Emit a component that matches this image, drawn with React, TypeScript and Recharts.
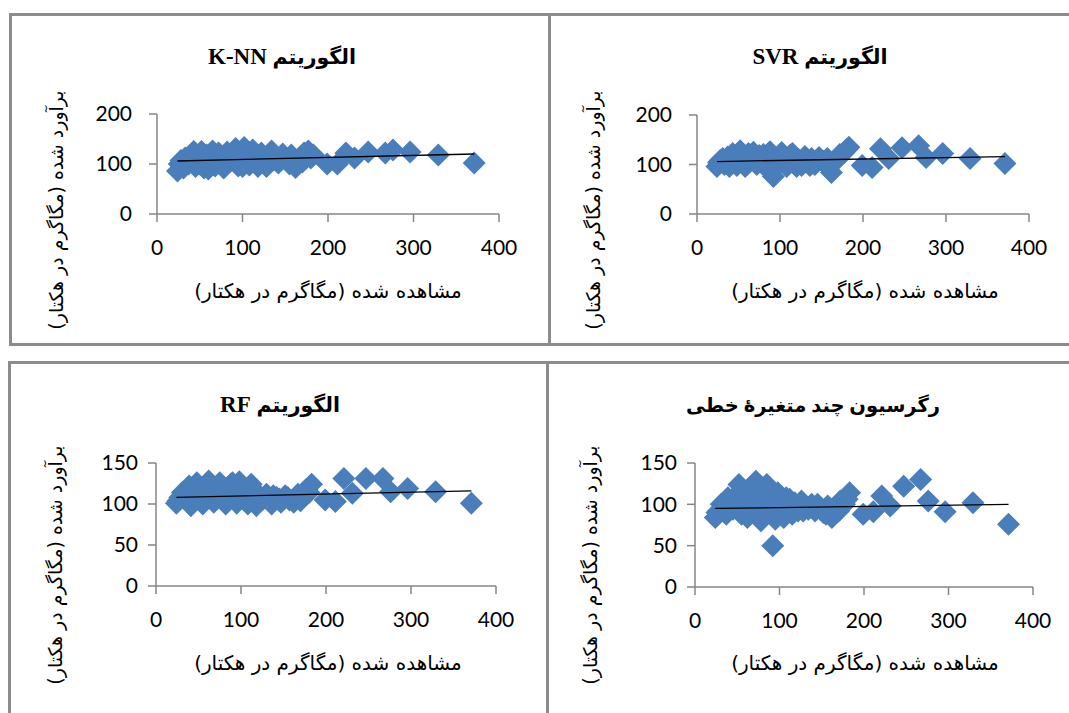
import React from 'react';
import { ScatterChart, Scatter, XAxis, YAxis } from 'recharts';

// Observed biomass (Mg/ha) – shared by all four models
const observed = [
  24, 28, 33, 37, 41, 45, 48, 52, 55, 58, 62, 65, 68, 72, 75, 78, 82, 85, 88, 92,
  95, 98, 102, 105, 108, 112, 115, 118, 122, 126, 130, 134, 138, 142, 147, 152, 157, 162, 167, 172,
  177, 183, 199, 211, 221, 231, 247, 267, 276, 296, 329, 371,
  26, 31, 39, 43, 50, 57, 60, 70, 80, 90, 100, 110, 120, 128, 136, 145, 155, 170, 180,
];

const knnPred = [
  86, 107, 112, 100, 120, 95, 110, 125, 92, 118, 105, 126, 96, 122, 110, 92, 124, 105, 118, 131,
  96, 112, 133, 120, 98, 128, 108, 95, 122, 112, 100, 126, 115, 102, 120, 110, 118, 93, 112, 122,
  126, 118, 100, 100, 122, 112, 124, 122, 128, 124, 118, 102,
  100, 92, 108, 125, 100, 112, 90, 115, 102, 108, 95, 118, 104, 95, 108, 112, 100, 104, 112,
];

const svrPred = [
  96, 108, 100, 115, 104, 118, 98, 128, 108, 96, 122, 110, 125, 100, 118, 108, 96, 120, 126, 76,
  112, 100, 124, 108, 96, 118, 122, 100, 110, 98, 116, 104, 112, 100, 114, 106, 112, 84, 108, 120,
  124, 135, 98, 94, 132, 112, 134, 138, 114, 122, 112, 102,
  104, 112, 96, 122, 116, 104, 100, 112, 120, 104, 114, 106, 96, 106, 98, 108, 100, 112, 130,
];

const rfPred = [
  101, 108, 112, 104, 98, 116, 126, 108, 100, 122, 128, 112, 102, 120, 126, 106, 100, 118, 124, 112,
  101, 127, 118, 108, 100, 124, 114, 98, 110, 106, 112, 104, 110, 108, 102, 110, 105, 102, 112, 110,
  118, 124, 105, 103, 131, 113, 131, 131, 115, 119, 115, 101,
  104, 114, 122, 110, 118, 104, 116, 110, 120, 126, 110, 118, 104, 108, 100, 106, 108, 104, 114,
];

const mlrPred = [
  84, 92, 96, 88, 102, 94, 110, 124, 88, 100, 84, 112, 96, 128, 118, 80, 106, 124, 96, 50,
  82, 114, 104, 84, 108, 106, 88, 102, 92, 104, 98, 94, 100, 92, 96, 90, 98, 84, 96, 104,
  100, 114, 88, 91, 110, 98, 122, 130, 104, 91, 102, 76,
  90, 100, 108, 96, 104, 118, 92, 104, 112, 92, 100, 96, 98, 92, 96, 100, 88, 92, 106,
];

// Trend lines (end points)
const knnTrendX = [24, 371];
const knnTrendY = [106, 120];
const svrTrendX = [24, 371];
const svrTrendY = [106, 116];
const rfTrendX = [24, 371];
const rfTrendY = [108, 116];
const mlrTrendX = [24, 371];
const mlrTrendY = [95, 100];

const xTicks = [0, 100, 200, 300, 400];
const yTicksTop = [0, 100, 200];
const yTicksBottom = [0, 50, 100, 150];

const algoWord = 'الگوریتم';
const algoNames = ['K-NN', 'SVR', 'RF'];
const mlrTitle = 'رگرسیون چند متغیرهٔ خطی';
const xTitle = 'مشاهده شده (مگاگرم در هکتار)';
const yTitle = 'برآورد شده (مگاگرم در هکتار)';

const toPoints = (xs: number[], ys: number[]) => xs.map((x, i) => ({ x, y: ys[i] }));

const BLUE = '#4A7EBB';
const AXIS = '#868686';
const BORDER = '#8c8c8c';

const Diamond = (props: any) => {
  const { cx, cy } = props;
  if (cx == null || cy == null) return <g />;
  const r = 11.5;
  return (
    <polygon
      points={`${cx},${cy - r} ${cx + r},${cy} ${cx},${cy + r} ${cx - r},${cy}`}
      fill={BLUE}
    />
  );
};

const NoShape = () => <g />;

type PanelProps = {
  left: number;
  top: number;
  width: number;
  height: number;
  plot: { x0: number; x1: number; y0: number; y1: number };
  pred: number[];
  trendX: number[];
  trendY: number[];
  yMax: number;
  yTicks: number[];
  yTickMargin: number;
};

const Panel = (p: PanelProps) => {
  const yAxisW = 60;
  const xAxisH = 40;
  const margin = {
    left: p.plot.x0 - p.left - yAxisW,
    top: p.plot.y0 - p.top,
    right: p.left + p.width - p.plot.x1,
    bottom: p.top + p.height - p.plot.y1 - xAxisH,
  };
  const tickStyle = { fill: '#000', fontSize: 21, fontFamily: 'Lato, "Open Sans", sans-serif' };
  return (
    <div style={{ position: 'absolute', left: p.left, top: p.top, width: p.width, height: p.height }}>
      <ScatterChart width={p.width} height={p.height} margin={margin}>
        <XAxis
          type="number"
          dataKey="x"
          domain={[0, 400]}
          ticks={xTicks}
          interval={0}
          height={xAxisH}
          tickSize={8}
          tickMargin={18}
          axisLine={{ stroke: AXIS, strokeWidth: 1.5 }}
          tickLine={{ stroke: AXIS, strokeWidth: 1.5 }}
          tick={tickStyle}
          allowDataOverflow
        />
        <YAxis
          type="number"
          dataKey="y"
          domain={[0, p.yMax]}
          ticks={p.yTicks}
          interval={0}
          width={yAxisW}
          tickSize={8}
          tickMargin={p.yTickMargin}
          axisLine={{ stroke: AXIS, strokeWidth: 1.5 }}
          tickLine={{ stroke: AXIS, strokeWidth: 1.5 }}
          tick={tickStyle}
          allowDataOverflow
        />
        <Scatter data={toPoints(observed, p.pred)} shape={Diamond} isAnimationActive={false} />
        <Scatter
          data={toPoints(p.trendX, p.trendY)}
          shape={NoShape}
          line={{ stroke: '#000', strokeWidth: 1.3 }}
          isAnimationActive={false}
        />
      </ScatterChart>
    </div>
  );
};

const textBase: React.CSSProperties = {
  position: 'absolute',
  whiteSpace: 'nowrap',
  color: '#000',
  lineHeight: 1,
};

const titleStyle = (x: number, y: number, size: number): React.CSSProperties => ({
  ...textBase,
  left: x,
  top: y,
  transform: 'translate(-50%, -50%)',
  fontFamily: '"Liberation Serif", "DejaVu Sans", serif',
  fontWeight: 'bold',
  fontSize: size,
});

const AlgoTitle = ({ x, y, name }: { x: number; y: number; name: string }) => (
  <div dir="rtl" style={titleStyle(x, y, 23)}>
    <span style={{ fontSize: 20.5 }}>{algoWord}</span> <span>{name}</span>
  </div>
);

const MlrTitle = ({ x, y }: { x: number; y: number }) => (
  <div dir="rtl" style={titleStyle(x, y, 19.5)}>
    {mlrTitle}
  </div>
);

const XTitle = ({ x, y }: { x: number; y: number }) => (
  <div
    dir="rtl"
    style={{
      ...textBase,
      left: x,
      top: y,
      transform: 'translate(-50%, -50%)',
      fontFamily: '"DejaVu Sans", sans-serif',
      fontSize: 20,
    }}
  >
    {xTitle}
  </div>
);

const YTitle = ({ x, y }: { x: number; y: number }) => (
  <div
    dir="rtl"
    style={{
      ...textBase,
      left: x,
      top: y,
      transform: 'translate(-50%, -50%) rotate(-90deg)',
      fontFamily: '"DejaVu Sans", sans-serif',
      fontSize: 19,
    }}
  >
    {yTitle}
  </div>
);

const Line = ({ l, t, w, h }: { l: number; t: number; w: number; h: number }) => (
  <div style={{ position: 'absolute', left: l, top: t, width: w, height: h, background: BORDER }} />
);

export default function App() {
  return (
    <div
      style={{
        position: 'absolute',
        left: 0,
        top: 0,
        width: 1069,
        height: 713,
        background: '#fff',
        overflow: 'hidden',
      }}
    >
      <Panel
        left={0} top={0} width={549} height={344}
        plot={{ x0: 157, x1: 499, y0: 114, y1: 214 }}
        pred={knnPred} trendX={knnTrendX} trendY={knnTrendY}
        yMax={200} yTicks={yTicksTop} yTickMargin={17}
      />
      <Panel
        left={549} top={0} width={520} height={344}
        plot={{ x0: 697, x1: 1029, y0: 115, y1: 214 }}
        pred={svrPred} trendX={svrTrendX} trendY={svrTrendY}
        yMax={200} yTicks={yTicksTop} yTickMargin={17}
      />
      <Panel
        left={0} top={362} width={547} height={351}
        plot={{ x0: 156, x1: 496, y0: 463, y1: 586 }}
        pred={rfPred} trendX={rfTrendX} trendY={rfTrendY}
        yMax={150} yTicks={yTicksBottom} yTickMargin={10}
      />
      <Panel
        left={547} top={362} width={522} height={351}
        plot={{ x0: 695, x1: 1033, y0: 463, y1: 587 }}
        pred={mlrPred} trendX={mlrTrendX} trendY={mlrTrendY}
        yMax={150} yTicks={yTicksBottom} yTickMargin={10}
      />

      <AlgoTitle x={282} y={56} name={algoNames[0]} />
      <AlgoTitle x={820} y={56} name={algoNames[1]} />
      <AlgoTitle x={280} y={404} name={algoNames[2]} />
      <MlrTitle x={813} y={406} />

      <XTitle x={328} y={291} />
      <XTitle x={865} y={291} />
      <XTitle x={328} y={663} />
      <XTitle x={865} y={663} />

      <YTitle x={56} y={210} />
      <YTitle x={593} y={210} />
      <YTitle x={55} y={565} />
      <YTitle x={590} y={565} />

      <Line l={9} t={13} w={1060} h={3} />
      <Line l={9} t={13} w={3} h={333} />
      <Line l={548} t={13} w={3} h={333} />
      <Line l={9} t={343} w={1060} h={3} />
      <Line l={8} t={361} w={1061} h={3} />
      <Line l={8} t={361} w={3} h={352} />
      <Line l={546} t={361} w={3} h={352} />
    </div>
  );
}
